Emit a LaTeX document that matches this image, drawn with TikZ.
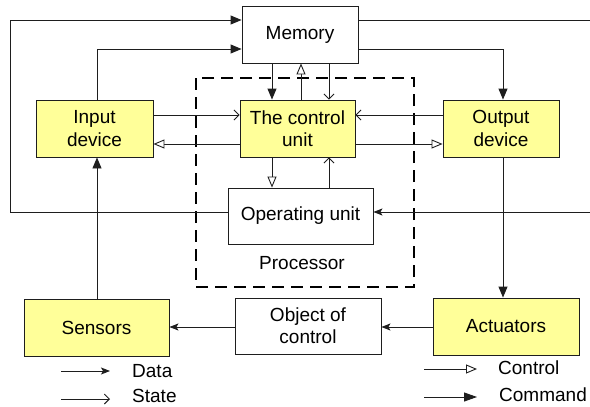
\documentclass[tikz,border=0pt]{standalone}
\usepackage{fontspec}
\setmainfont{Liberation Sans}
\usetikzlibrary{arrows.meta,calc}
\definecolor{boxyellow}{RGB}{255,255,153}
\definecolor{edge}{RGB}{30,30,30}
\begin{document}
\begin{tikzpicture}[x=1pt,y=-1pt,
  font=\fontsize{19}{22.4}\selectfont,
  box/.style={draw=edge,line width=0.9pt,inner sep=0pt,align=center,minimum height=57pt},
  ybox/.style={box,fill=boxyellow},
  wbox/.style={box,fill=white},
  conn/.style={draw=edge,line width=0.9pt},
  cmd/.style={conn,-{Triangle[length=11pt,width=9pt]}},
  dat/.style={conn,-{Stealth[length=9pt,width=7pt,inset=2pt]}},
  ctl/.style={conn,-{Triangle[open,length=11pt,width=9pt,fill=white]}},
  sta/.style={conn,-{Straight Barb[length=5pt,width=10pt]}},
  lbl/.style={anchor=west,inner sep=0pt}
]
\useasboundingbox (0,0) rectangle (590,407);
\fill[white] (0,0) rectangle (590,407);

% processor frame
\draw[line width=2.8pt,dash pattern=on 12pt off 7pt] (196,78) rectangle (414,287);
\node[inner sep=0pt] (proc) at (302,263) {Processor};

% nodes
\node[wbox,minimum width=116pt] (mem) at (300,34.5) {Memory};
\node[ybox,minimum width=117pt] (in) at (94.5,128.5) {Input\\device};
\node[ybox,minimum width=115pt] (cu) at (297.5,128.5) {The control\\unit};
\node[ybox,minimum width=116pt] (out) at (501,128.5) {Output\\device};
\node[wbox,minimum width=145pt,minimum height=56pt] (op) at (300.5,216) {Operating unit};
\node[ybox,minimum width=145pt] (sen) at (96.5,327.5) {Sensors};
\node[wbox,minimum width=146pt,minimum height=56pt] (obj) at (308,326) {Object of\\control};
\node[ybox,minimum width=146pt] (act) at (506,326.5) {Actuators};

% level coordinates
\coordinate (y20) at (0,20);
\coordinate (y49) at (0,49);
\coordinate (y115) at (0,115);
\coordinate (y144) at (0,144);
\coordinate (y212) at (0,212);
\coordinate (y327) at (0,327);
\coordinate (x97) at (97,0);
\coordinate (x272) at (272,0);
\coordinate (x301) at (301,0);
\coordinate (x329) at (329,0);
\coordinate (x503) at (503,0);
\coordinate (xl) at (10,0);
\coordinate (xr) at (600,0);

% outer loops
\draw[cmd] (op.west |- y212) -| (xl |- y20) -- (mem.west |- y20);
\draw[dat] (mem.east |- y20) -| (xr |- y212) -- (op.east |- y212);
% input device -> memory
\draw[cmd] (x97 |- in.north) |- (mem.west |- y49);
% memory -> output device
\draw[cmd] (mem.east |- y49) -| (x503 |- out.north);
% memory <-> control unit
\draw[cmd] (x272 |- mem.south) -- (x272 |- cu.north);
\draw[ctl] (x301 |- cu.north) -- (x301 |- mem.south);
\draw[sta] (x329 |- mem.south) -- (x329 |- cu.north);
% input/output <-> control unit
\draw[sta] (in.east |- y115) -- (cu.west |- y115);
\draw[ctl] (cu.west |- y144) -- (in.east |- y144);
\draw[sta] (out.west |- y115) -- (cu.east |- y115);
\draw[ctl] (cu.east |- y144) -- (out.west |- y144);
% control unit <-> operating unit
\draw[ctl] (x272 |- cu.south) -- (x272 |- op.north);
\draw[sta] (x329 |- op.north) -- (x329 |- cu.south);
% output -> actuators
\draw[cmd] (x503 |- out.south) -- (x503 |- act.north);
% bottom row
\draw[dat] (act.west |- y327) -- (obj.east |- y327);
\draw[dat] (obj.west |- y327) -- (sen.east |- y327);
\draw[cmd] (x97 |- sen.north) -- (x97 |- in.south);

% legend
\coordinate (d1) at (61,371); \coordinate (d2) at (110,371);
\coordinate (s1) at (61,399); \coordinate (s2) at (110,399);
\coordinate (c1) at (424,369); \coordinate (c2) at (477,369);
\coordinate (m1) at (424,397); \coordinate (m2) at (477,397);
\draw[dat] (d1) -- (d2);
\draw[sta] (s1) -- (s2);
\draw[ctl] (c1) -- (c2);
\draw[conn,-{Triangle[length=13pt,width=9pt]}] (m1) -- (m2);
\node[lbl] (ld) at (132,371) {Data};
\node[lbl] (ls) at (132,396) {State};
\node[lbl] (lc) at (498,368) {Control};
\node[lbl] (lm) at (499,394.7) {Command};
\end{tikzpicture}
\end{document}
